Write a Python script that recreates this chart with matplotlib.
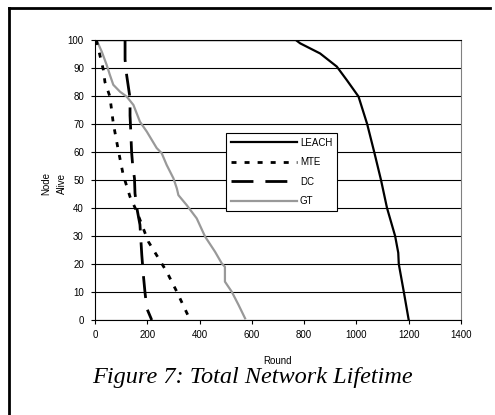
import numpy as np
import matplotlib as mpl
mpl.use('Agg')
import matplotlib.pyplot as plt
from matplotlib.lines import Line2D

mpl.rc('font', family='Liberation Sans', size=7)
mpl.rc('lines', scale_dashes=False)

# curves: round vs. nodes alive
leach_x = [0, 768, 785, 861, 925, 963, 1008, 1041, 1068, 1094, 1117, 1148, 1160, 1162, 1180, 1200]
leach_y = [100, 100, 98.8, 95.2, 90.5, 85.7, 79.8, 70, 60, 50, 40, 30, 24, 20, 10.7, 0]

mte_x = [5, 32, 38, 57, 70, 89, 108, 134, 160, 204, 274, 313, 364]
mte_y = [100, 89.3, 85, 79.8, 70.2, 60.7, 51.8, 44, 38.7, 28, 17.3, 10.1, 0]

dc_x = [115, 115, 121, 134, 134, 137, 140, 144, 151, 153, 160, 172, 179, 185, 191, 198, 217]
dc_y = [100, 93, 87.5, 79.2, 73, 67, 60, 55.4, 50.6, 45.2, 40, 34, 23.2, 16, 10.1, 4.2, 0]

gt_x = [6, 26, 45, 57, 70, 96, 121, 147, 172, 198, 236, 255, 274, 300, 313, 319,
        351, 389, 421, 459, 485, 497, 497, 523, 549, 574]
gt_y = [100, 95.8, 91, 87.5, 84, 81.5, 79.8, 76.8, 70.8, 67.3, 61.4, 59.6, 55.4, 50.6, 47, 44.6,
        41, 36.3, 29.8, 24.4, 20.2, 19, 13.7, 10.1, 5.4, 0.6]

x_ticks = [0, 200, 400, 600, 800, 1000, 1200, 1400]
y_ticks = [0, 10, 20, 30, 40, 50, 60, 70, 80, 90, 100]

W, H = 495, 415
fig = plt.figure(figsize=(W / 100, H / 100), dpi=100)
ax = fig.add_axes([95 / W, 1 - 320 / H, 366 / W, 280 / H])

ax.plot(leach_x, leach_y, color='black', lw=1.6, label='LEACH', zorder=4)
ax.plot(mte_x, mte_y, color='black', lw=2.0, dashes=(3.6, 5.8), label='MTE', zorder=4)
ax.plot(dc_x, dc_y, color='black', lw=2.0, dashes=(15.8, 8.6), label='DC', zorder=4)
ax.plot(gt_x, gt_y, color='#999999', lw=1.6, label='GT', zorder=3)

ax.set_xlim(0, 1400)
ax.set_ylim(0, 100)
ax.set_xticks(x_ticks)
ax.set_yticks(y_ticks)
ax.yaxis.grid(True, color='black', lw=0.8)
ax.set_axisbelow(True)
ax.tick_params(direction='out', length=3, width=0.8, pad=4, colors='black')
ax.tick_params(axis='y', pad=5)
ax.spines['right'].set_color('#808080')
ax.spines['top'].set_color('black')
for s in ax.spines.values():
    s.set_linewidth(0.8)

ax.set_xlabel('Round', labelpad=12)
fig.text(54 / W, 1 - 183 / H, 'Node\nAlive', rotation=90, ha='center', va='center',
         fontsize=7, linespacing=1.8)

leg = ax.legend(loc='upper left', bbox_to_anchor=(226 / W, 1 - 133 / H),
                bbox_transform=fig.transFigure, fancybox=False, framealpha=1,
                edgecolor='black', handlelength=6.8, handletextpad=0.3,
                labelspacing=0.97, borderpad=0.5, borderaxespad=0)
leg.get_frame().set_linewidth(0.8)

fig.text(252 / W, 1 - 383 / H, 'Figure 7: Total Network Lifetime', ha='center',
         va='baseline', family='Liberation Serif', style='italic', fontsize=17.5)

# page frame around the figure
fig.add_artist(Line2D([9 / W, 9 / W], [0, 1 - 8 / H], color='black', lw=2))
fig.add_artist(Line2D([9 / W, 490 / W], [1 - 8 / H, 1 - 8 / H], color='black', lw=2))

fig.savefig('out.png', dpi=100)
